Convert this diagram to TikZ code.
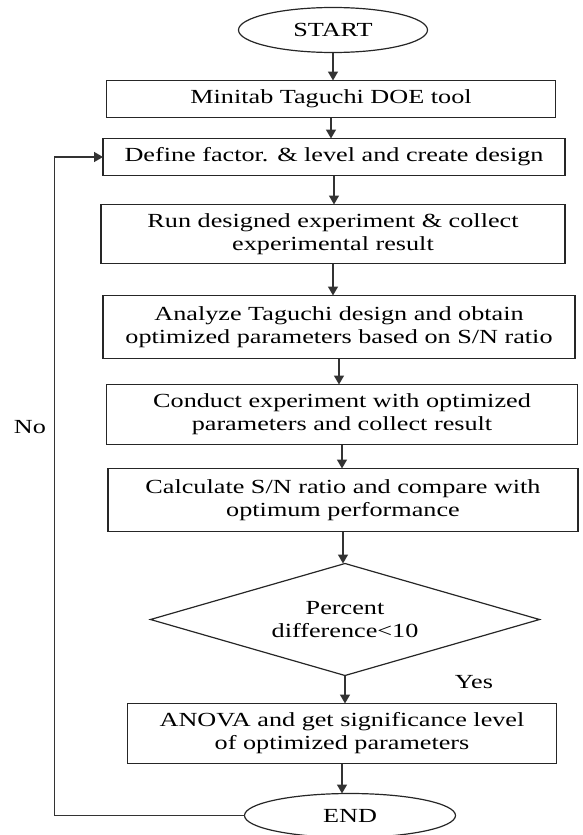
\documentclass[tikz,border=0pt]{standalone}
\usepackage{fontspec}
\setmainfont{Liberation Serif}[FakeStretch=1.31]
\usetikzlibrary{positioning,shapes.geometric,arrows.meta}

\tikzset{
	box/.style={draw=black!85, line width=1.4pt, rectangle, align=center,
		inner sep=0pt, outer sep=0pt, font=\fontsize{20}{23}\selectfont},
	term/.style={draw=black!85, line width=1.2pt, ellipse, inner sep=0pt,
		outer sep=0pt, font=\fontsize{20}{23}\selectfont},
	decision/.style={draw=black!85, line width=1.2pt, diamond, aspect=3.47, align=center,
		inner sep=0pt, outer sep=0pt, font=\fontsize{20}{23}\selectfont},
	flow/.style={draw=black!80, line width=1.4pt, -{Triangle[length=9pt,width=10pt]}},
	note/.style={font=\fontsize{20}{23}\selectfont},
}

\begin{document}
\begin{tikzpicture}[x=1pt,y=1pt]
		\useasboundingbox (0,0) rectangle (582,-835);
		
		\node [term, minimum width=189pt, minimum height=45pt] (start) at (333,-30) {START};
		\node [box, below=28pt of start, xshift=-2pt, minimum width=449pt, minimum height=37pt] (mini) {Minitab Taguchi DOE tool};
		\node [box, below=21pt of mini, xshift=3pt, minimum width=462pt, minimum height=37pt] (define) {Define factor. \& level and create design};
		\node [box, below=29pt of define, xshift=-1pt, minimum width=464pt, minimum height=59pt] (run) {Run designed experiment \& collect\\experimental result};
		\node [box, below=32pt of run, xshift=6pt, minimum width=472pt, minimum height=63pt] (analyze) {Analyze Taguchi design and obtain\\optimized parameters based on S/N ratio};
		\node [box, below=26pt of analyze, xshift=3pt, minimum width=471pt, minimum height=60pt] (conduct) {Conduct experiment with optimized\\parameters and collect result};
		\node [box, below=24pt of conduct, xshift=1pt, minimum width=470pt, minimum height=63pt] (calc) {Calculate S/N ratio and compare with\\optimum performance};
		\node [decision, below=32pt of calc, xshift=2pt, minimum width=389pt, minimum height=112pt] (diff) {Percent\\difference<10};
		\node [box, below=28pt of diff, xshift=-3pt, minimum width=429pt, minimum height=60pt] (anova) {ANOVA and get significance level\\of optimized parameters};
		\node [term, below=30pt of anova, xshift=8pt, minimum width=211pt, minimum height=44pt] (end) {END};
		
		\node [note] (no) at (30,-427) {No};
		\node [note] (yes) at (474,-682) {Yes};
		
		\draw [flow] (start.south) -- (start.south |- mini.north);
		\draw [flow] (mini.south) -- (mini.south |- define.north);
		\draw [flow] (define.south) -- (define.south |- run.north);
		\draw [flow] (run.south) -- (run.south |- analyze.north);
		\draw [flow] (analyze.south) -- (analyze.south |- conduct.north);
		\draw [flow] (conduct.south) -- (conduct.south |- calc.north);
		\draw [flow] (calc.south) -- (calc.south |- diff.north);
		\draw [flow] (diff.south) -- (diff.south |- anova.north);
		\draw [flow] (anova.south) -- (anova.south |- end.north);
		\draw [flow] (end.west) -- ++(-190pt,0) |- (define.west);
		
	\end{tikzpicture}
\end{document}
